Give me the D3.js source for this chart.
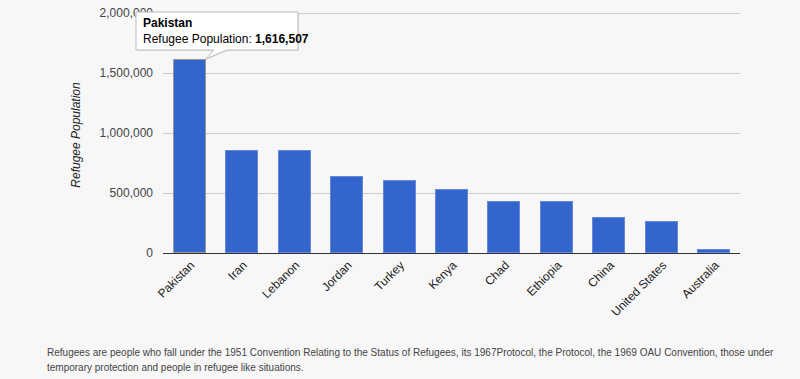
<!DOCTYPE html>
<html>
<head>
<meta charset="utf-8">
<script src="https://cdn.jsdelivr.net/npm/d3@7"></script>
<style>
  html, body { margin: 0; padding: 0; background: #f7f7f7; }
  svg { display: block; font-family: Arial, "Liberation Sans", sans-serif; }
</style>
</head>
<body>
<svg id="chart" width="800" height="379"></svg>
<script>
const categories = ["Pakistan", "Iran", "Lebanon", "Jordan", "Turkey", "Kenya", "Chad", "Ethiopia", "China", "United States", "Australia"];
const values = [1616507, 857354, 856546, 641915, 609938, 534938, 434479, 433936, 301047, 263662, 34503];
const yTicks = [0, 500000, 1000000, 1500000, 2000000];
const yTitle = "Refugee Population";
const seriesName = "Refugee Population";
const footnoteLines = [
  "Refugees are people who fall under the 1951 Convention Relating to the Status of Refugees, its 1967Protocol, the Protocol, the 1969 OAU Convention, those under",
  "temporary protection and people in refugee like situations."
];
const highlighted = 0;

(function () {
const svg = d3.select("#chart");
const W = 800, H = 379;
svg.append("rect").attr("width", W).attr("height", H).attr("fill", "#f7f7f7");

const pL = 163, pR = 740, pT = 13, pB = 253;
const x = d3.scaleBand().domain(categories).range([pL, pR]).paddingInner(0.37).paddingOuter(0.185);
const y = d3.scaleLinear().domain([0, 2000000]).range([pB, pT]);
const fmt = d3.format(",");

// gridlines + y labels
const yAxis = d3.axisLeft(y).tickValues(yTicks).tickFormat(fmt).tickSize(-(pR - pL)).tickPadding(10);
const gy = svg.append("g").attr("transform", `translate(${pL},0)`).call(yAxis);
gy.select(".domain").remove();
gy.selectAll(".tick line").attr("stroke", "#cccccc").attr("stroke-width", 1);
gy.selectAll(".tick text").attr("fill", "#444").style("font-size", "12px").attr("x", -10);

// bars
svg.append("g").selectAll("rect").data(values).join("rect")
  .attr("x", (d, i) => x(categories[i]) + 0.5)
  .attr("y", d => y(d) + 0.5)
  .attr("width", x.bandwidth() - 1)
  .attr("height", d => Math.max(0, y(0) - y(d) - 1))
  .attr("fill", "#3366cc")
  .attr("stroke", (d, i) => i === highlighted ? "#9a9a9a" : "#6688dd")
  .attr("stroke-width", 1)
  .attr("shape-rendering", "crispEdges");

// baseline
svg.append("line").attr("x1", pL).attr("x2", pR).attr("y1", y(0)).attr("y2", y(0))
  .attr("stroke", "#333").attr("stroke-width", 1).attr("shape-rendering", "crispEdges");

// x labels
const xAxis = d3.axisBottom(x).tickSize(0).tickPadding(0);
const gx = svg.append("g").attr("transform", `translate(0,${pB})`).call(xAxis);
gx.select(".domain").remove();
gx.selectAll(".tick text")
  .attr("fill", "#222").style("font-size", "12px")
  .attr("text-anchor", "end")
  .attr("dy", null)
  .attr("y", 0)
  .attr("transform", "translate(6,13) rotate(-45)");

// y title
svg.append("text")
  .attr("transform", `translate(80,${(pT + pB) / 2 + 2}) rotate(-90)`)
  .attr("text-anchor", "middle")
  .attr("fill", "#222").style("font-size", "12px").style("font-style", "italic")
  .text(yTitle);

// tooltip
const bx = x(categories[highlighted]);
const bTop = y(values[highlighted]);
const tip = svg.append("g");
const tx = 136, ty = 12, tw = 162, th = 38;
const bw = x.bandwidth();
const tipPath = `M${tx},${ty} H${tx + tw} V${ty + th} H${bx + bw + 21} L${bx + bw},${bTop} L${bx + bw + 8},${ty + th} H${tx} Z`;
tip.append("path").attr("d", tipPath).attr("transform", "translate(1,1)").attr("fill", "rgba(0,0,0,0.08)");
tip.append("path").attr("d", tipPath).attr("fill", "#fff").attr("stroke", "#bbb").attr("stroke-width", 1);
tip.append("text").attr("x", tx + 7).attr("y", ty + 15).attr("fill", "#000")
  .style("font-size", "12px").style("font-weight", "bold").text(categories[highlighted]);
const t2 = tip.append("text").attr("x", tx + 7).attr("y", ty + 31).attr("fill", "#000").style("font-size", "12px");
t2.append("tspan").text(seriesName + ": ");
t2.append("tspan").style("font-weight", "bold").text(fmt(values[highlighted]));

// footnote: natural text, squeezed horizontally with a transform to the reference widths
const targets = [727, 257];
const baselines = [356, 371];
footnoteLines.forEach((line, i) => {
  const t = svg.append("text").attr("x", 0).attr("y", 0).attr("fill", "#444")
    .style("font-size", "11px").text(line);
  const w = t.node().getComputedTextLength();
  const sx = Math.min(1, targets[i] / w);
  t.attr("transform", `translate(47,${baselines[i]}) scale(${sx},1)`);
});
})();
</script>
</body>
</html>
